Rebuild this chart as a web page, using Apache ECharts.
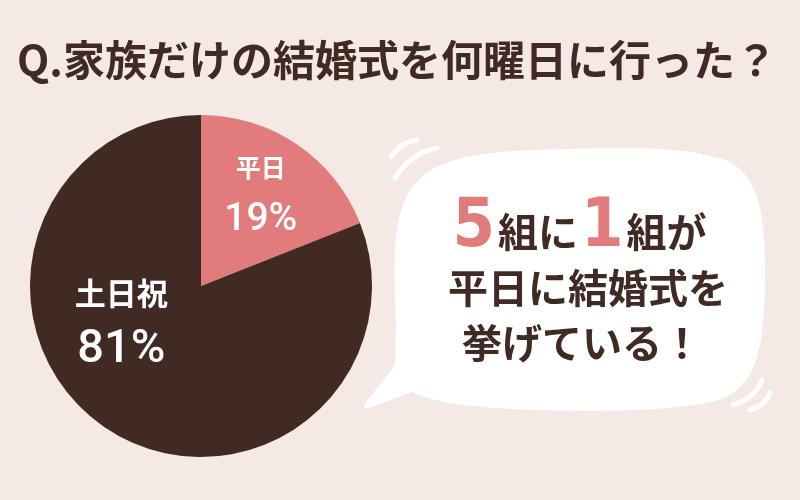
<!DOCTYPE html>
<html>
<head>
<meta charset="utf-8">
<script src="https://cdn.jsdelivr.net/npm/echarts@6/dist/echarts.min.js"></script>
<style>
html,body{margin:0;padding:0;background:#f4e9e5;}
#chart{width:800px;height:500px;}
</style>
</head>
<body>
<div id="chart"></div>
<script>
const categories = ['平日', '土日祝'];
const values = [19, 81];
const sliceColors = ['#e27c7c', '#412a24'];
const titleText = 'Q.家族だけの結婚式を何曜日に行った？';
const bubbleLine1 = ['5', '組に', '1', '組が'];
const bubbleLine2 = '平日に結婚式を';
const bubbleLine3 = '挙げている！';

const BROWN = '#412a24';
const PINK = '#e27c7c';
const FONT = '"Noto Sans CJK JP", "Noto Sans", sans-serif';
const NUMFONT = 'Roboto, "Noto Sans", sans-serif';
const NARROW = '"Liberation Sans Narrow", "DejaVu Sans Condensed", Roboto, sans-serif';

const bubblePath =
  'M 395 300 C 393 250 395 215 410 190 C 430 160 470 152 540 150 ' +
  'C 620 147 690 145 730 162 C 760 178 766 220 765 280 ' +
  'C 764 340 760 380 725 398 C 690 410 620 412 540 410 ' +
  'C 480 408 440 405 412 392 L 369 408 C 364 410 362 406 366 402 ' +
  'L 395 365 C 396 340 396 320 395 300 Z';
echarts.graphic.registerShape('speechBubble', echarts.graphic.extendPath(bubblePath, {}));

const chart = echarts.init(document.getElementById('chart'), null, {renderer: 'canvas'});

const arcStyle = {stroke: '#ffffff', lineWidth: 5, lineCap: 'round', fill: null};
function arc(x1, y1, cx, cy, x2, y2) {
  return {type: 'bezierCurve', shape: {x1: x1, y1: y1, cpx1: cx, cpy1: cy, x2: x2, y2: y2}, style: arcStyle};
}

const option = {
  backgroundColor: '#f4e9e5',
  animation: false,
  graphic: [
    {
      type: 'text', x: 397, y: 60,
      style: {text: titleText, fill: BROWN, font: 'bold 42px ' + FONT, align: 'center', verticalAlign: 'middle'}
    },
    {type: 'speechBubble', style: {fill: '#ffffff'}},
    arc(391, 157, 400, 143, 417, 140),
    arc(395, 178, 412, 152, 437, 148),
    arc(733, 405, 755, 398, 762, 380),
    arc(750, 410, 766, 405, 770, 393),
    {
      type: 'text', x: 578, y: 262,
      style: {
        text: '{p|' + bubbleLine1[0] + '}{b|' + bubbleLine1[1] + '}{p|' + bubbleLine1[2] + '}{b|' + bubbleLine1[3] + '}',
        align: 'center', verticalAlign: 'bottom',
        rich: {
          p: {fill: PINK, font: 'bold 68px ' + NARROW, verticalAlign: 'bottom', padding: [0, 3, 0, 3]},
          b: {fill: BROWN, font: 'bold 40px ' + FONT, verticalAlign: 'bottom', padding: [0, 0, 10, 0]}
        }
      }
    },
    {
      type: 'text', x: 588, y: 288,
      style: {text: bubbleLine2, fill: BROWN, font: 'bold 40px ' + FONT, align: 'center', verticalAlign: 'middle'}
    },
    {
      type: 'text', x: 582, y: 343,
      style: {text: bubbleLine3, fill: BROWN, font: 'bold 40px ' + FONT, align: 'center', verticalAlign: 'middle'}
    }
  ],
  series: [{
    type: 'pie',
    center: [201, 286],
    radius: 171,
    startAngle: 90,
    clockwise: true,
    silent: true,
    data: categories.map((c, i) => ({name: c, value: values[i], itemStyle: {color: sliceColors[i]}})),
    label: {
      show: true,
      position: 'inside',
      formatter: p => '{n' + p.dataIndex + '|' + p.name + '}\n{v' + p.dataIndex + '|' + p.value + '%}',
      rich: {
        n0: {color: '#fff', fontFamily: FONT, fontWeight: 'bold', fontSize: 25, lineHeight: 46},
        v0: {color: '#fff', fontFamily: NUMFONT, fontWeight: 500, fontSize: 39, lineHeight: 58},
        n1: {color: '#fff', fontFamily: FONT, fontWeight: 'bold', fontSize: 31, lineHeight: 50},
        v1: {color: '#fff', fontFamily: NUMFONT, fontWeight: 500, fontSize: 47, lineHeight: 64}
      }
    },
    labelLine: {show: false},
    labelLayout: p => p.dataIndex === 0 ? {dx: 10, dy: -16} : {dx: -30, dy: -34}
  }]
};
chart.setOption(option);
</script>
</body>
</html>
